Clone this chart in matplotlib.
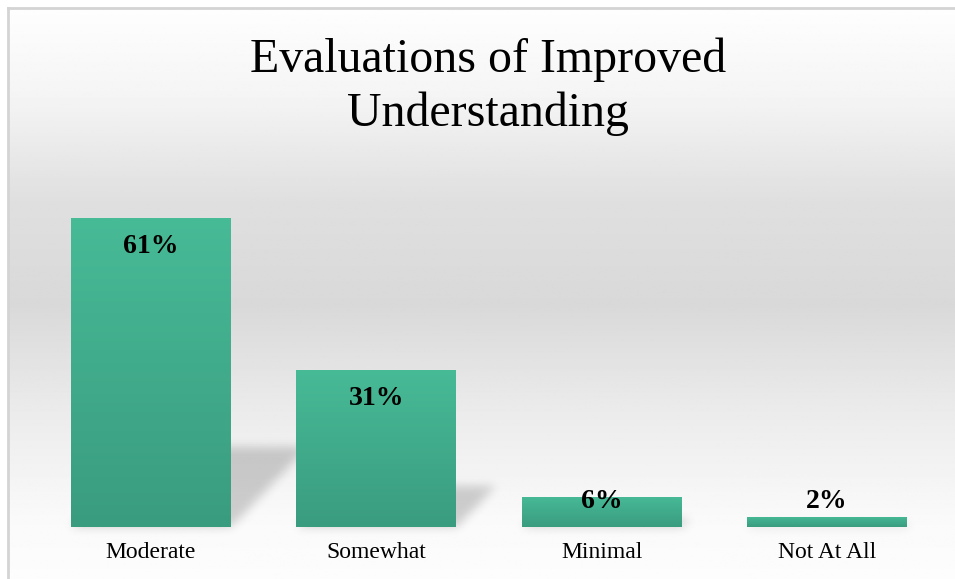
import matplotlib.pyplot as plt
import numpy as np
from matplotlib.colors import LinearSegmentedColormap

categories = ["Moderate", "Somewhat", "Minimal", "Not At All"]
percents = [61, 31, 6, 2]
title = "Evaluations of Improved\nUnderstanding"

W, H = 955, 579
fig = plt.figure(figsize=(W / 100, H / 100), dpi=100)
fig.patch.set_facecolor("white")

# Background panel with vertical gradient (white -> grey -> white), border on top/left
bg = fig.add_axes([8 / W, 0, 1 - 8 / W, 1 - 8 / H], zorder=0)
bg.set_axis_off()
yy = np.linspace(0, 1, 300)  # 0 = bottom, 1 = top
grey = np.interp(yy, [0.0, 0.1, 0.3, 0.48, 0.66, 0.85, 1.0],
                 [0.99, 0.98, 0.92, 0.85, 0.875, 0.96, 0.995])
grad = np.repeat(grey[:, None], 2, axis=1)
bg.imshow(grad, cmap="gray", vmin=0, vmax=1, aspect="auto", origin="lower",
          extent=[0, 1, 0, 1])
bg.set_xlim(0, 1)
bg.set_ylim(0, 1)
bg.plot([0, 0], [0, 1], color="#d4d4d4", lw=2, transform=bg.transAxes, clip_on=False)
bg.plot([0, 1], [1, 1], color="#d4d4d4", lw=2, transform=bg.transAxes, clip_on=False)

# Plot axes, positioned so bars land where they are in the reference
left_px, right_px = 20, 945
base_px, top_px = 527, 190
px_per_pct = 5.07
ax = fig.add_axes([left_px / W, (H - base_px) / H,
                   (right_px - left_px) / W, (base_px - top_px) / H], zorder=2)
ax.patch.set_alpha(0)
unit = 225.3
c0 = 151
ax.set_xlim((left_px - c0) / unit, (right_px - c0) / unit)
ax.set_ylim(0, (base_px - top_px) / px_per_pct)
ax.set_axis_off()

x = np.arange(len(categories))
bars = ax.bar(x, percents, width=0.71, color="#42b08e", zorder=3)

# Gradient fill for each bar + data labels
green = LinearSegmentedColormap.from_list("g", ["#3a9c7f", "#47ba96"])
ramp = np.linspace(0, 1, 100)[:, None]
for b, p in zip(bars, percents):
    bx, bw, bh = b.get_x(), b.get_width(), b.get_height()
    im = ax.imshow(ramp, cmap=green, aspect="auto", origin="lower",
                   extent=[bx, bx + bw, 0, bh], zorder=4)
    im.set_clip_path(b)
    ly = max(bh - 29 / px_per_pct, 26 / px_per_pct)
    ax.text(bx + bw / 2, ly, f"{p}%", ha="center", va="center",
            fontsize=20, fontweight="bold", family="Liberation Serif",
            color="black", zorder=6)

ax.set_xlim((left_px - c0) / unit, (right_px - c0) / unit)
ax.set_ylim(0, (base_px - top_px) / px_per_pct)

for xi, lab in zip(x, categories):
    ax.text(xi, -26 / px_per_pct, lab, ha="center", va="center", fontsize=17,
            family="Liberation Serif", color="black", clip_on=False)

# Soft perspective shadows behind the bars (in figure pixel space)
sh = fig.add_axes([0, 0, 1, 1], zorder=1)
sh.set_axis_off()
sh.set_xlim(0, W)
sh.set_ylim(0, H)
gx, gy = np.meshgrid(np.arange(W) + 0.5, np.arange(H) + 0.5)
mask = np.zeros((H, W))
for b in bars:
    (x0, y0), (x1, y1) = ax.transData.transform(
        [[b.get_x(), 0], [b.get_x() + b.get_width(), b.get_height()]])
    hs = (y1 - y0) * 0.26
    skew = 0.95
    t = gy - y0
    inside = (t >= 0) & (t <= hs) & (gx >= x0 + skew * t) & (gx <= x1 + skew * t)
    mask = np.maximum(mask, inside.astype(float))
k = np.exp(-0.5 * (np.arange(-12, 13) / 5.0) ** 2)
k /= k.sum()
mask = np.apply_along_axis(lambda r: np.convolve(r, k, mode="same"), 1, mask)
mask = np.apply_along_axis(lambda c: np.convolve(c, k, mode="same"), 0, mask)
rgba = np.zeros((H, W, 4))
rgba[..., 3] = mask * 0.18
sh.imshow(rgba, origin="lower", extent=[0, W, 0, H], aspect="auto",
          interpolation="bilinear")

fig.text(488 / W, 1 - 87 / H, title, ha="center", va="center",
         fontsize=34.5, family="Liberation Serif", linespacing=1.27)

fig.savefig("out.png", dpi=100)
